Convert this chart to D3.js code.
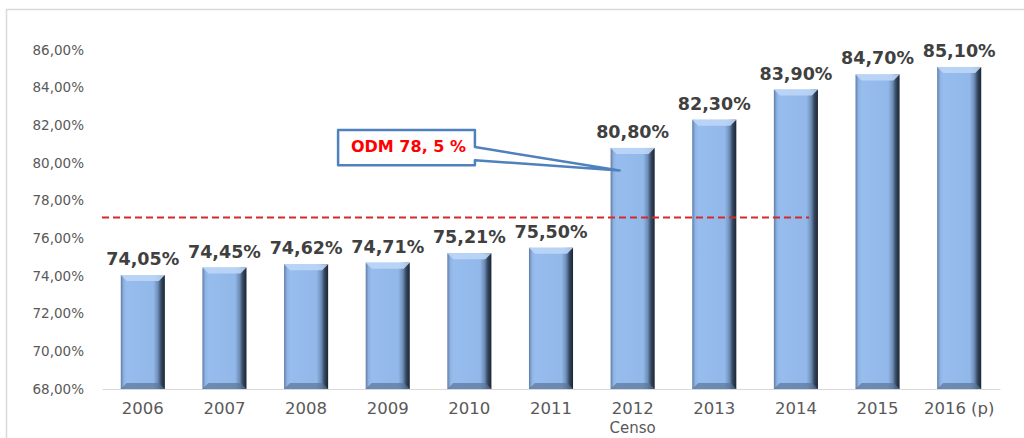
<!DOCTYPE html>
<html>
<head>
<meta charset="utf-8">
<script src="https://cdn.jsdelivr.net/npm/d3@7"></script>
<style>
  body { margin: 0; background: #fff; }
  svg { display: block; font-family: "DejaVu Sans", Verdana, sans-serif; }
</style>
</head>
<body>
<svg id="chart"></svg>
<script>
// Data
const years = ["2006", "2007", "2008", "2009", "2010", "2011", "2012", "2013", "2014", "2015", "2016 (p)"];
const values = [74.05, 74.45, 74.62, 74.71, 75.21, 75.50, 80.80, 82.30, 83.90, 84.70, 85.10];
const yTicks = [68, 70, 72, 74, 76, 78, 80, 82, 84, 86];
const goalLineValue = 77.1;
const goalLabel = "ODM 78, 5 %";
const xTitle = "Censo";

const W = 1024, H = 438;
const margin = { top: 50, right: 24, bottom: 49, left: 102 };
const width = W - margin.left - margin.right,
  height = H - margin.top - margin.bottom;

const svg = d3.select("#chart").attr("width", W).attr("height", H);

// Frame
svg.append("path")
  .attr("d", `M6.5,${H} V9.5 H${W}`)
  .attr("fill", "none")
  .attr("stroke", "#d9d9d9")
  .attr("stroke-width", 1.5);

const g = svg.append("g")
  .attr("transform", `translate(${margin.left},${margin.top})`);

// Scales
const x = d3.scaleBand()
  .domain(years)
  .range([0, width])
  .paddingInner(0.46)
  .paddingOuter(0.23);

const y = d3.scaleLinear()
  .domain([68, 86])
  .range([height, 0]);

// Gradients for bevelled bars
const defs = svg.append("defs");
const grad = defs.append("linearGradient").attr("id", "barGrad")
  .attr("x1", "0%").attr("x2", "100%").attr("y1", "0%").attr("y2", "0%");
[["0%", "#5f7ea8"], ["7%", "#8fb3e3"], ["14%", "#97bdee"], ["74%", "#92b8e9"],
 ["84%", "#6f8fba"], ["92%", "#34465e"], ["100%", "#1b2533"]]
  .forEach(([o, c]) => grad.append("stop").attr("offset", o).attr("stop-color", c));

// Y axis
const yAxis = g.append("g")
  .call(d3.axisLeft(y).tickValues(yTicks)
    .tickFormat(d => d.toFixed(2).replace(".", ",") + "%")
    .tickSize(0).tickPadding(18));
yAxis.select(".domain").remove();
yAxis.selectAll("text")
  .attr("fill", "#595959")
  .attr("font-size", "13.5px")
  .attr("font-family", "DejaVu Sans, sans-serif");

// X axis
const xAxis = g.append("g")
  .attr("transform", `translate(0,${height})`)
  .call(d3.axisBottom(x).tickSize(0).tickPadding(13));
xAxis.select(".domain").attr("stroke", "#d9d9d9").attr("stroke-width", 1.2);
xAxis.selectAll("text")
  .attr("fill", "#595959")
  .attr("font-size", "16.5px")
  .attr("font-family", "DejaVu Sans, sans-serif");

g.append("text")
  .attr("x", x("2012") + x.bandwidth() / 2)
  .attr("y", height + 44)
  .attr("text-anchor", "middle")
  .attr("fill", "#595959")
  .attr("font-size", "15px")
  .text(xTitle);

// Bars
const bw = x.bandwidth();
const bev = 6;
const bars = g.selectAll(".bar")
  .data(years.map((yr, i) => ({ yr, v: values[i] })))
  .enter().append("g").attr("class", "bar");

bars.append("rect")
  .attr("x", d => x(d.yr))
  .attr("y", d => y(d.v))
  .attr("width", bw)
  .attr("height", d => height - y(d.v))
  .attr("fill", "url(#barGrad)");

// top bevel (light)
bars.append("path")
  .attr("d", d => {
    const x0 = x(d.yr), t = y(d.v);
    return `M${x0},${t} H${x0 + bw} L${x0 + bw - bev},${t + bev} H${x0 + bev} Z`;
  })
  .attr("fill", "#bcd6f7")
  .attr("opacity", 0.9);

// bottom bevel (dark)
bars.append("path")
  .attr("d", d => {
    const x0 = x(d.yr);
    return `M${x0},${height} H${x0 + bw} L${x0 + bw - bev},${height - bev} H${x0 + bev} Z`;
  })
  .attr("fill", "#5a7599")
  .attr("opacity", 0.7);

// Value labels
bars.append("text")
  .attr("x", d => x(d.yr) + bw / 2)
  .attr("y", d => y(d.v) - 10)
  .attr("text-anchor", "middle")
  .attr("fill", "#404040")
  .attr("font-weight", "bold")
  .attr("font-size", "17.5px")
  .text(d => d.v.toFixed(2).replace(".", ",") + "%");

// Goal dashed line
g.append("line")
  .attr("x1", 0)
  .attr("x2", x("2014") + bw * 0.8)
  .attr("y1", y(goalLineValue))
  .attr("y2", y(goalLineValue))
  .attr("stroke", "#d42a2a")
  .attr("stroke-width", 2)
  .attr("stroke-dasharray", "7,4");

// Callout box
const step = x.step();
const bx0 = x("2009") - 0.5 * step + bw * 0.3,
  bx1 = x("2011") - 0.5 * step - bw * 0.3,
  by0 = y(81.75), by1 = y(79.88);
const tipX = x("2012") + 9, tipY = y(79.6);
g.append("path")
  .attr("d", `M${bx0},${by0} H${bx1} V${by0 + 17} L${tipX},${tipY} L${bx1},${by1 - 5} V${by1} H${bx0} Z`)
  .attr("fill", "#fff")
  .attr("stroke", "#4f81bd")
  .attr("stroke-width", 2.5)
  .attr("stroke-linejoin", "round");

g.append("text")
  .attr("x", (bx0 + bx1) / 2 + 2)
  .attr("y", by0 + 22)
  .attr("text-anchor", "middle")
  .attr("fill", "#ff0000")
  .attr("font-weight", "bold")
  .attr("font-size", "16px")
  .text(goalLabel);
</script>
</body>
</html>
